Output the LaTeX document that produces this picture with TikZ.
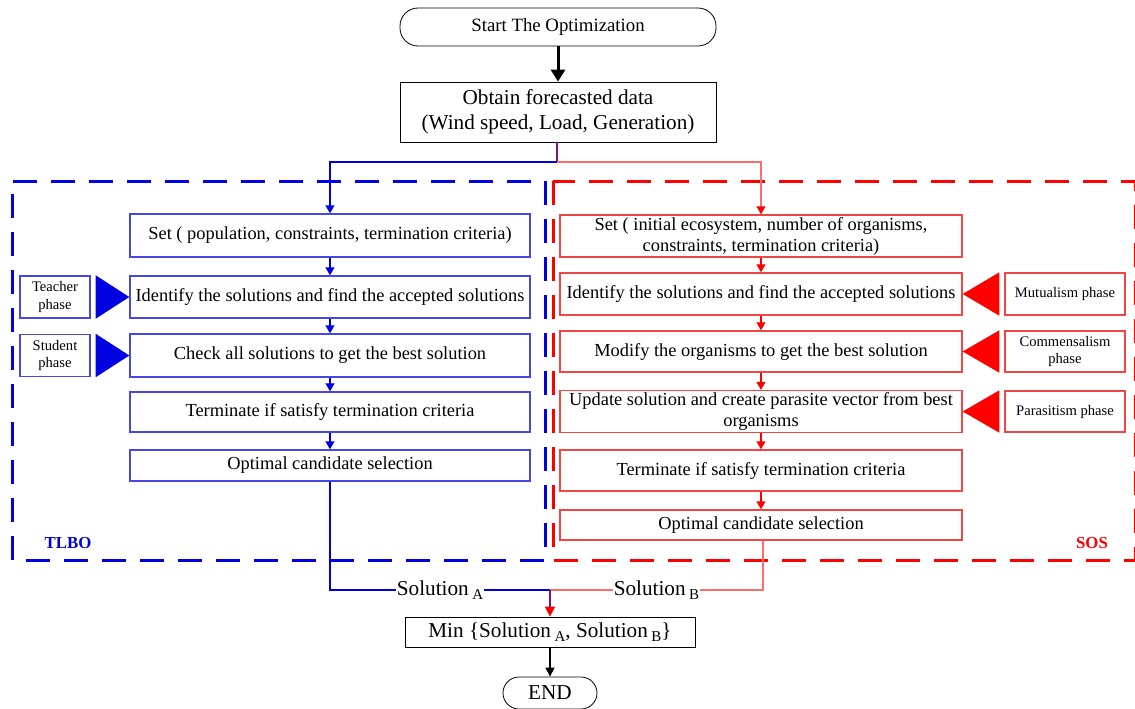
\documentclass[tikz,border=0pt]{standalone}
\usepackage{fontspec}
\setmainfont{Liberation Serif}
\usepackage{tikz}
\usetikzlibrary{arrows.meta, positioning, calc}

\definecolor{tblue}{RGB}{0,0,225}
\definecolor{tbox}{RGB}{70,70,235}
\definecolor{sred}{RGB}{255,0,0}
\definecolor{sbox}{RGB}{240,70,70}
\definecolor{sline}{RGB}{250,110,110}
\definecolor{mixl}{RGB}{120,20,140}

\newcommand\lowsub[1]{\,\raisebox{-0.45ex}{\fontsize{7.5}{8}\selectfont #1}}

\begin{document}
\begin{tikzpicture}[
  x=0.5pt, y=-0.5pt,
  every node/.style={font=\fontsize{9.2}{10.5}\selectfont, inner sep=1pt, text=black},
  big/.style={font=\fontsize{10.6}{12.5}\selectfont},
  term/.style={draw, rounded corners=9pt, thin, fill=white},
  plain/.style={draw, thin, fill=white},
  tstep/.style={draw=tbox, line width=0.7pt, minimum width=200pt, align=center},
  sstep/.style={draw=sbox, line width=0.7pt, minimum width=201pt, align=center},
  tphase/.style={draw=tbox, line width=0.7pt, minimum width=35pt, minimum height=21pt,
                 align=center, font=\fontsize{7.3}{8.6}\selectfont},
  sphase/.style={draw=sbox, line width=0.7pt, minimum width=60pt, align=center,
                 font=\fontsize{7.3}{8.6}\selectfont},
  tarr/.style={-{Triangle[width=4.5pt,length=4pt]}, tblue, line width=0.6pt},
  sarr/.style={-{Triangle[width=4.5pt,length=4pt]}, sred, line width=0.6pt},
  frame/.style={line width=1.5pt, dash pattern=on 12pt off 7pt}
]
  \useasboundingbox (0,0) rectangle (1135,708);

  % frames
  \draw[frame, tblue] (545,181) rectangle (12,560);
  \draw[frame, sred]  (553,181) rectangle (1135,560);
  \node[text=tblue, font=\fontsize{8.4}{9}\selectfont\bfseries] (tlbo) at (68,543) {TLBO};
  \node[text=sred,  font=\fontsize{8.4}{9}\selectfont\bfseries] (sos)  at (1092,543) {SOS};

  % top
  \node[term, minimum width=158pt, minimum height=19pt, font=\fontsize{9.4}{11}\selectfont] (start) at (558,27) {Start The Optimization};
  \node[plain, big, minimum width=158pt, minimum height=30pt, align=center] (obt) at (558,112)
    {Obtain forecasted data\\(Wind speed, Load, Generation)};
  \draw[-{Triangle[width=7pt,length=6pt]}, line width=1.5pt] (start) -- (obt);

  % TLBO side
  \node[tstep, minimum height=21.5pt] (tset)   at (330,235.5) {Set ( population, constraints, termination criteria)};
  \node[tstep, minimum height=21pt]   (tfind)  at (330,297)   {Identify the solutions and find the accepted solutions};
  \node[tstep, minimum height=21.5pt] (tcheck) at (330,355.5) {Check all solutions to get the best solution};
  \node[tstep, minimum height=20pt]   (tterm)  at (330,412)   {Terminate if satisfy termination criteria};
  \node[tstep, minimum height=15.5pt] (topt)   at (330,465.5) {Optimal candidate selection};
  \draw[tarr] (tset) -- (tfind);
  \draw[tarr] (tfind) -- (tcheck);
  \draw[tarr] (tcheck) -- (tterm);
  \draw[tarr] (tterm) -- (topt);

  \node[tphase] (tteach) at (55,297)   {Teacher\\phase};
  \node[tphase] (tstud)  at (55,355.5) {Student\\phase};
  \fill[tblue] (tfind.west) -- ($(tteach.north east)+(5,0)$) -- ($(tteach.south east)+(5,0)$) -- cycle;
  \fill[tblue] (tcheck.west) -- ($(tstud.north east)+(5,0)$) -- ($(tstud.south east)+(5,0)$) -- cycle;

  % SOS side
  \node[sstep, minimum height=21pt] (sset)   at (761,236)   {Set ( initial ecosystem, number of organisms,\\constraints, termination criteria)};
  \node[sstep, minimum height=21pt] (sfind)  at (761,294)   {Identify the solutions and find the accepted solutions};
  \node[sstep, minimum height=20.5pt] (smod) at (761,351.5) {Modify the organisms to get the best solution};
  \node[sstep, minimum height=20.5pt] (supd) at (761,411.5) {Update solution and create parasite vector from best\\organisms};
  \node[sstep, minimum height=20.5pt] (sterm) at (761,470.5) {Terminate if satisfy termination criteria};
  \node[sstep, minimum height=15pt]   (sopt)  at (761,525)   {Optimal candidate selection};
  \draw[sarr] (sset) -- (sfind);
  \draw[sarr] (sfind) -- (smod);
  \draw[sarr] (smod) -- (supd);
  \draw[sarr] (supd) -- (sterm);
  \draw[sarr] (sterm) -- (sopt);

  \node[sphase, minimum height=21pt]   (smut) at (1065,294)   {Mutualism phase};
  \node[sphase, minimum height=20.5pt] (scom) at (1065,351.5) {Commensalism\\phase};
  \node[sphase, minimum height=20.5pt] (spar) at (1065,411.5) {Parasitism phase};
  \fill[sred] (sfind.east) -- ($(smut.north west)+(-5,0)$) -- ($(smut.south west)+(-5,0)$) -- cycle;
  \fill[sred] (smod.east) -- ($(scom.north west)+(-5,0)$) -- ($(scom.south west)+(-5,0)$) -- cycle;
  \fill[sred] (supd.east) -- ($(spar.north west)+(-5,0)$) -- ($(spar.south west)+(-5,0)$) -- cycle;

  % split from forecast box
  \coordinate (split) at (557,162);
  \draw[mixl, line width=0.6pt] (obt.south -| split) -- (split);
  \draw[tarr] (split) -| (tset.north);
  \draw[sline, line width=0.6pt, -{Triangle[width=4.5pt,length=4pt,color=sred]}] (split) -| (sset.north);

  % merge
  \node[plain, big, minimum width=145pt, minimum height=15pt] (minb) at (550,632)
    {Min \{Solution\lowsub{A}, Solution\lowsub{B}\}};
  \node[term, big, rounded corners=8pt, minimum width=47pt, minimum height=16pt] (fin) at (550,693) {END};
  \coordinate (join) at (550,590);
  \draw[tblue, line width=0.7pt] (topt.south) |- node[pos=0.75, fill=white, inner sep=0.5pt, big] {Solution\lowsub{A}} (join);
  \draw[sline, line width=0.7pt] (sopt.south -| 763,0) |- node[pos=0.75, fill=white, inner sep=0.5pt, big] {Solution\lowsub{B}} (join);
  \draw[mixl, line width=0.9pt, -{Triangle[width=5pt,length=5pt,color=sred]}] (join) -- (minb.north);
  \draw[-{Triangle[width=4.5pt,length=4.5pt]}, line width=0.6pt] (minb) -- (fin);
\end{tikzpicture}
\end{document}
